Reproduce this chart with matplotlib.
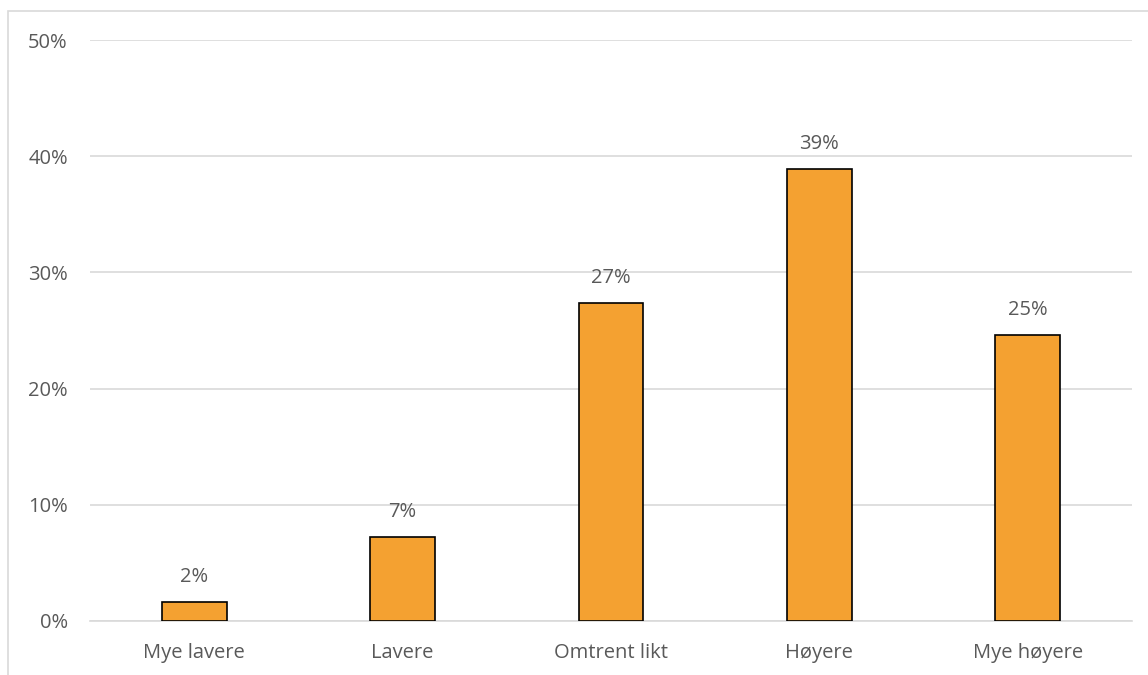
import matplotlib.pyplot as plt
from matplotlib.patches import Rectangle

kategorier = ['Mye lavere', 'Lavere', 'Omtrent likt', 'Høyere', 'Mye høyere']
andel = [1.6, 7.2, 27.4, 38.9, 24.6]
etiketter = ['2%', '7%', '27%', '39%', '25%']

plt.rcParams['font.family'] = ['Open Sans', 'DejaVu Sans']
tekstfarge = '#595959'

fig = plt.figure(figsize=(11.48, 6.75), dpi=100)
ax = fig.add_axes([90 / 1148, 1 - 621 / 675, (1132 - 90) / 1148, (621 - 40) / 675])

x = range(len(kategorier))
ax.bar(x, andel, width=0.31, color='#F4A131', edgecolor='black', linewidth=1.2, zorder=3)
for xi, v, lab in zip(x, andel, etiketter):
    ax.text(xi, v + 1.3, lab, ha='center', va='bottom', fontsize=14.5, color=tekstfarge)

ax.set_xlim(-0.5, len(kategorier) - 0.5)
ax.set_ylim(0, 50)
ax.set_yticks(range(0, 51, 10))
ax.set_yticklabels([f'{t}%' for t in range(0, 51, 10)])
ax.set_xticks(list(x))
ax.set_xticklabels(kategorier)
ax.tick_params(axis='both', length=0, labelsize=14.5, labelcolor=tekstfarge)
ax.tick_params(axis='y', pad=16)
ax.tick_params(axis='x', pad=16)
ax.grid(axis='y', color='#D9D9D9', linewidth=1.2, zorder=0)
for s in ['top', 'right', 'left']:
    ax.spines[s].set_visible(False)
ax.spines['bottom'].set_color('#D9D9D9')
ax.spines['bottom'].set_linewidth(1.2)

fig.patches.append(Rectangle((8 / 1148, -0.1), 1.2, 1 - 11 / 675 + 0.1, transform=fig.transFigure,
                             fill=False, edgecolor='#D9D9D9', linewidth=1.2))

fig.savefig('out.png', dpi=100)
